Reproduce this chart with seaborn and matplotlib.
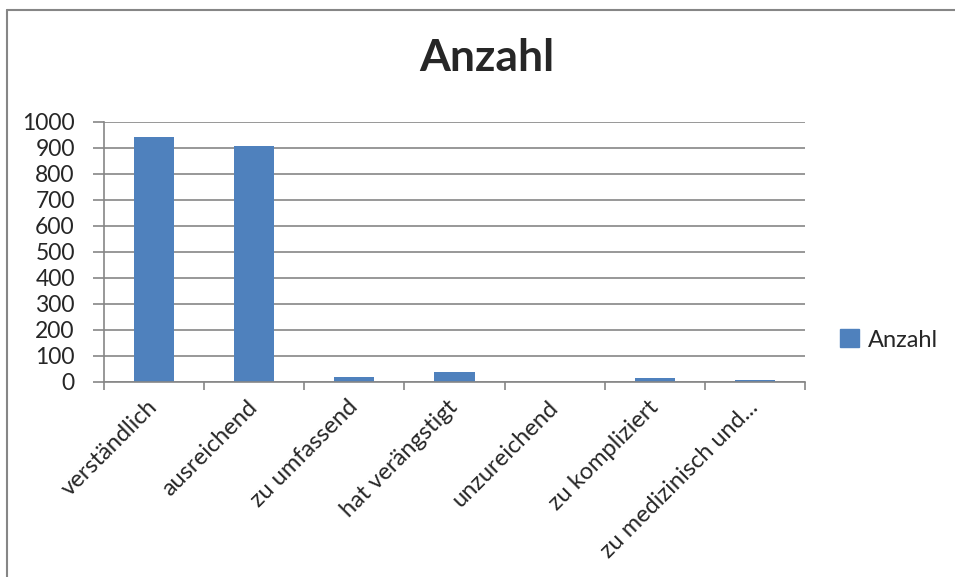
import matplotlib
matplotlib.use("Agg")
import matplotlib.pyplot as plt
import seaborn as sns
from matplotlib.lines import Line2D
from matplotlib.patches import Patch

# Daten
kategorien = ["verständlich", "ausreichend", "zu umfassend", "hat verängstigt",
              "unzureichend", "zu kompliziert", "zu medizinisch und..."]
anzahl = [942, 905, 19, 37, 0, 14, 5]
y_ticks = [0, 100, 200, 300, 400, 500, 600, 700, 800, 900, 1000]

sns.set_style("white")
plt.rcParams['font.family'] = ['Lato', 'DejaVu Sans']

balken_farbe = "#4F81BD"
grau = "#868686"

fig = plt.figure(figsize=(9.55, 5.77), dpi=100)
ax = fig.add_axes([104 / 955, 1 - 381.7 / 577, 701 / 955, 260 / 577])

sns.barplot(x=kategorien, y=anzahl, color=balken_farbe, width=0.4,
            saturation=1, ax=ax, zorder=3, linewidth=0)

ax.set_ylim(0, 1000)
ax.set_xlim(-0.5, len(kategorien) - 0.5)
ax.set_yticks(y_ticks)
ax.set_yticklabels([str(v) for v in y_ticks], fontsize=16.5)
ax.yaxis.grid(True, color=grau, linewidth=1.2, zorder=0)
ax.set_xlabel("")
ax.set_ylabel("")

# x-Ticks an den Kategoriegrenzen, Beschriftung in der Mitte
ax.set_xticks([i - 0.5 for i in range(len(kategorien) + 1)], minor=False)
ax.set_xticklabels([])
ax.set_xticks(range(len(kategorien)), minor=True)
ax.set_xticklabels(kategorien, minor=True, rotation=45, ha="right",
                   va="center", rotation_mode="anchor", fontsize=17)
ax.tick_params(axis="x", which="major", direction="out", length=6,
               width=1.2, color=grau, bottom=True)
ax.tick_params(axis="x", which="minor", length=0, pad=16)
ax.tick_params(axis="y", direction="out", length=8, width=1.2, color=grau,
               left=True, pad=13)

for s in ["top", "right"]:
    ax.spines[s].set_visible(False)
for s in ["left", "bottom"]:
    ax.spines[s].set_color(grau)
    ax.spines[s].set_linewidth(1.2)
    ax.spines[s].set_zorder(4)

fig.text(487 / 955, 1 - 58 / 577, "Anzahl", fontsize=32, fontweight="bold",
         ha="center", va="center")

ax.legend(handles=[Patch(color=balken_farbe, label="Anzahl")],
          loc="center left", bbox_to_anchor=(840 / 955, 1 - 340 / 577),
          bbox_transform=fig.transFigure, frameon=False, fontsize=17,
          handlelength=0.8, handleheight=0.8, handletextpad=0.4,
          borderpad=0, borderaxespad=0)

# Rahmen des Diagrammbereichs
fig.add_artist(Line2D([7 / 955, 7 / 955], [0, 1 - 10 / 577],
                      transform=fig.transFigure, color=grau, linewidth=1.5))
fig.add_artist(Line2D([7 / 955, 1], [1 - 10 / 577, 1 - 10 / 577],
                      transform=fig.transFigure, color=grau, linewidth=1.5))

fig.savefig("out.png", dpi=100)
